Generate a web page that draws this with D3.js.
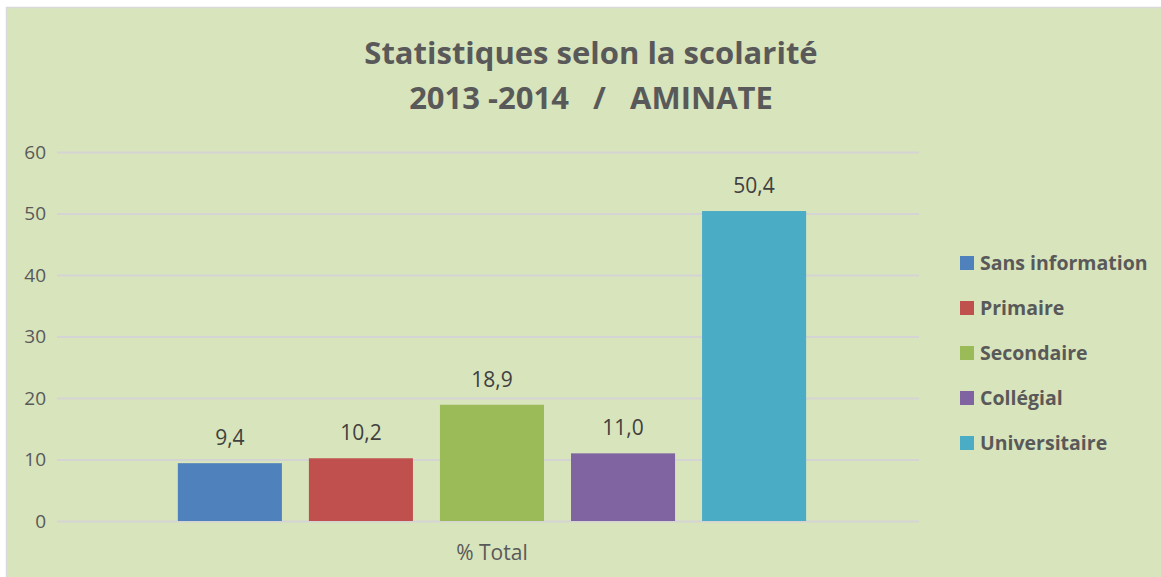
<!DOCTYPE html>
<html>
<head>
<meta charset="utf-8">
<script src="https://cdn.jsdelivr.net/npm/d3@7"></script>
<style>
  html, body { margin: 0; padding: 0; background: #fff; }
  svg { display: block; }
</style>
</head>
<body>
<svg id="chart"></svg>
<script>
const width = 1161;
const height = 577;

// data
const categories = ['% Total'];
const series = ['Sans information', 'Primaire', 'Secondaire', 'Collégial', 'Universitaire'];
const values = [9.4, 10.2, 18.9, 11.0, 50.4];
const colors = ['#4f81bd', '#c0504d', '#9bbb59', '#8064a2', '#4bacc6'];
const yTicks = [0, 10, 20, 30, 40, 50, 60];
const titleLines = ['Statistiques selon la scolarité', '2013 -2014   /   AMINATE'];

const svg = d3.select('#chart')
  .attr('width', width)
  .attr('height', height);

svg.append('rect')
  .attr('x', 6.5).attr('y', 7.5)
  .attr('width', width).attr('height', height)
  .attr('fill', '#d8e4bc')
  .attr('stroke', '#d9d9d9')
  .attr('stroke-width', 1.5);

// title
svg.append('text')
  .attr('x', 591).attr('y', 64)
  .attr('text-anchor', 'middle')
  .style('font-family', 'Open Sans')
  .style('font-weight', 'bold')
  .style('font-size', '31px')
  .attr('fill', '#595959')
  .selectAll('tspan')
  .data(titleLines)
  .enter()
  .append('tspan')
  .attr('x', 591)
  .attr('dy', (d, i) => i ? 45 : 0)
  .style('white-space', 'pre')
  .attr('xml:space', 'preserve')
  .text(d => d);

const plot = { left: 57, right: 919, top: 152, bottom: 521 };

const y = d3.scaleLinear()
  .domain([0, 60])
  .range([plot.bottom, plot.top]);

const x0 = d3.scaleBand()
  .domain(categories)
  .range([plot.left, plot.right])
  .paddingInner(0)
  .paddingOuter(0.186)
  .align(0.517);

const x1 = d3.scaleBand()
  .domain(series)
  .range([0, x0.bandwidth()])
  .paddingInner(0.206)
  .paddingOuter(0);

// gridlines
const yAxis = d3.axisLeft(y)
  .tickValues(yTicks)
  .tickSize(-(plot.right - plot.left))
  .tickPadding(11)
  .tickFormat(d3.format('d'));

const gAxis = svg.append('g')
  .attr('transform', `translate(${plot.left},0)`)
  .call(yAxis);

gAxis.select('.domain').remove();
gAxis.selectAll('.tick line')
  .attr('stroke', '#d4d4d4')
  .attr('stroke-width', 2);
gAxis.selectAll('.tick text')
  .attr('fill', '#595959')
  .style('font-family', 'Open Sans')
  .style('font-size', '19px');

// bars
const group = svg.append('g')
  .selectAll('g')
  .data(categories)
  .enter()
  .append('g')
  .attr('transform', d => `translate(${x0(d)},0)`);

const rows = series.map((s, i) => ({ name: s, value: values[i], color: colors[i] }));

group.selectAll('rect')
  .data(rows)
  .enter()
  .append('rect')
  .attr('x', d => x1(d.name))
  .attr('y', d => y(d.value))
  .attr('width', x1.bandwidth())
  .attr('height', d => y(0) - y(d.value))
  .attr('fill', d => d.color);

const fmt = v => d3.format('.1f')(v).replace('.', ',');

group.selectAll('text.label')
  .data(rows)
  .enter()
  .append('text')
  .attr('class', 'label')
  .attr('x', d => x1(d.name) + x1.bandwidth() / 2)
  .attr('y', d => y(d.value) - 18)
  .attr('text-anchor', 'middle')
  .attr('fill', '#404040')
  .style('font-family', 'Open Sans')
  .style('font-size', '21px')
  .text(d => fmt(d.value));

// category label
svg.append('g')
  .selectAll('text')
  .data(categories)
  .enter()
  .append('text')
  .attr('x', d => x0(d) + x0.bandwidth() / 2)
  .attr('y', 560)
  .attr('text-anchor', 'middle')
  .attr('fill', '#595959')
  .style('font-family', 'Open Sans')
  .style('font-size', '21px')
  .text(d => d);

// legend
const legend = svg.append('g')
  .attr('transform', 'translate(960,263)');

const item = legend.selectAll('g')
  .data(rows)
  .enter()
  .append('g')
  .attr('transform', (d, i) => `translate(0,${i * 45})`);

item.append('rect')
  .attr('x', 0).attr('y', -7)
  .attr('width', 14).attr('height', 14)
  .attr('fill', d => d.color);

item.append('text')
  .attr('x', 20).attr('y', 7)
  .attr('fill', '#595959')
  .style('font-family', 'Open Sans')
  .style('font-weight', 'bold')
  .style('font-size', '19.5px')
  .text(d => d.name);
</script>
</body>
</html>
